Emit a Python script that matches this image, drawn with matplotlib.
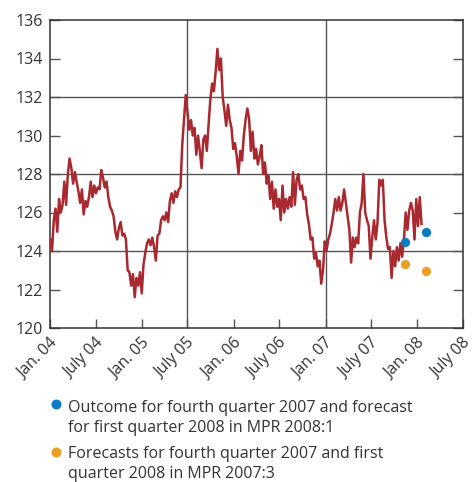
import numpy as np
import pandas as pd
import matplotlib
matplotlib.use('Agg')
import matplotlib.pyplot as plt
import matplotlib.transforms as mtransforms
from matplotlib.lines import Line2D

plt.rcParams['font.family'] = ['Open Sans', 'DejaVu Sans']

# weekly index values, starting first week of Jan 2004
start_date = '2004-01-02'
index_values = [
    124.6, 124.0, 125.6, 126.2, 125.0, 126.7, 126.0, 126.4, 127.6, 126.4,
    128.0, 128.8, 128.3, 127.5, 128.1, 127.6, 127.1, 126.5, 127.2, 125.9,
    126.6, 126.3, 126.8, 127.6, 126.8, 127.4, 127.0, 127.3, 127.2, 128.2,
    127.8, 127.3, 127.6, 126.8, 126.3, 126.1, 125.8, 125.0, 124.6, 125.2,
    125.5, 124.8, 124.9, 124.6, 123.0, 122.9, 122.2, 122.8, 121.6, 122.6,
    122.2, 122.9, 121.8, 123.3, 123.9, 124.4, 124.6, 124.3, 124.7, 124.2,
    123.5, 124.8, 124.9, 125.6, 125.8, 125.6, 126.0, 125.5, 126.6, 127.0,
    126.5, 127.1, 126.8, 127.2, 127.3, 129.5, 130.8, 132.1, 131.2, 130.3,
    130.8, 130.0, 130.4, 129.0, 130.0, 129.2, 128.3, 129.8, 130.0, 129.2,
    130.6, 131.9, 132.7, 132.3, 133.3, 134.5, 133.4, 134.0, 132.0, 131.3,
    130.5, 131.6, 130.8, 130.4, 129.3, 129.6, 128.9, 128.0, 129.2, 128.7,
    130.0, 130.8, 131.4, 130.9, 129.2, 130.2, 128.8, 129.3, 128.5, 128.9,
    129.5, 128.0, 128.6, 127.5, 127.9, 126.7, 127.6, 126.2, 127.2, 126.3,
    126.7, 125.6, 127.4, 126.0, 126.7, 126.2, 126.8, 126.3, 128.1, 126.4,
    127.7, 128.0, 127.2, 127.4, 126.7, 126.8, 125.9, 125.4, 124.6, 124.7,
    123.6, 123.9, 123.2, 123.5, 122.3, 123.0, 124.5, 124.0, 124.6, 124.9,
    125.4, 126.0, 126.7, 126.1, 126.8, 126.1, 126.5, 127.2, 126.5, 125.8,
    125.1, 123.4, 124.7, 124.2, 124.7, 124.4, 126.0, 126.5, 128.0, 126.0,
    125.6, 125.3, 123.6, 124.7, 125.6, 124.6, 125.5, 127.7, 127.4, 127.7,
    125.6, 124.7, 124.1, 124.2, 122.6, 124.0, 123.2, 124.2, 123.5, 124.4,
    123.7, 124.6, 126.0, 125.1, 126.1, 126.5, 126.1, 124.6, 126.7, 125.3,
    126.8, 125.4,
]

# quarterly points (Q4 2007, Q1 2008)
point_dates = ['2007-11-15', '2008-02-05']
outcome_mpr2008 = [124.45, 125.0]
forecast_mpr2007 = [123.35, 122.95]

tick_dates = ['2004-01-01', '2004-07-01', '2005-01-01', '2005-07-01', '2006-01-01',
              '2006-07-01', '2007-01-01', '2007-07-01', '2008-01-01', '2008-07-01']
tick_labels = ['Jan. 04', 'July 04', 'Jan. 05', 'July 05', 'Jan. 06',
               'July 06', 'Jan. 07', 'July 07', 'Jan. 08', 'July 08']

legend_texts = ['Outcome for fourth quarter 2007 and forecast\nfor first quarter 2008 in MPR 2008:1',
                'Forecasts for fourth quarter 2007 and first\nquarter 2008 in MPR 2007:3']

red = '#a8292f'
blue = '#0a7cc4'
orange = '#e6a126'
txt = '#333333'

dates = pd.date_range(start_date, periods=len(index_values), freq='7D')
pdates = pd.to_datetime(point_dates)
tdates = pd.to_datetime(tick_dates)

fig = plt.figure(figsize=(4.72, 4.82), dpi=100)
ax = fig.add_axes([50/472, 1-328/482, 413/472, 308/482])

ax.plot(dates, index_values, color=red, lw=1.8, zorder=3)
ax.plot(pdates, outcome_mpr2008, 'o', color=blue, ms=6.7, mec='none', zorder=4)
ax.plot(pdates, forecast_mpr2007, 'o', color=orange, ms=6.7, mec='none', zorder=4)

ax.set_ylim(120, 136)
ax.set_xlim(tdates[0], tdates[-1])
ax.set_yticks(np.arange(120, 137, 2))
ax.set_xticks(tdates)
ax.set_xticklabels(tick_labels)

# grid: every 4 on y, every 18 months on x
for v in [124, 128, 132]:
    ax.axhline(v, color='#555555', lw=1.0, zorder=1)
for d in ['2005-07-01', '2007-01-01']:
    ax.axvline(pd.Timestamp(d), color='#555555', lw=1.0, zorder=1)

ax.tick_params(axis='y', direction='in', length=7.2, width=1, color='#555555',
               left=True, right=True, labelsize=11.5, labelcolor=txt, pad=5)
ax.tick_params(axis='x', direction='in', length=6.5, width=1, color='#555555',
               labelsize=11.5, labelcolor=txt, pad=4)
shift = mtransforms.ScaledTranslation(5/100, -7/100, fig.dpi_scale_trans)
for lab in ax.get_xticklabels():
    lab.set_rotation(45)
    lab.set_ha('right')
    lab.set_va('center')
    lab.set_rotation_mode('anchor')
    lab.set_transform(lab.get_transform() + shift)

for s in ax.spines.values():
    s.set_color('#333333')
    s.set_linewidth(1.1)

# legend below chart
dot_y = [404, 451.7]
last_base = [431.7, 478.0]
cols = [blue, orange]
for y, yb, c, t in zip(dot_y, last_base, cols, legend_texts):
    fig.add_artist(Line2D([56/472], [1-y/482], marker='o', color=c, ms=7.2,
                          mec='none', transform=fig.transFigure))
    fig.text(68/472, 1-yb/482, t, fontsize=11.5, color=txt, va='baseline',
             ha='left', linespacing=1.3)

fig.savefig('out.png', dpi=100)
